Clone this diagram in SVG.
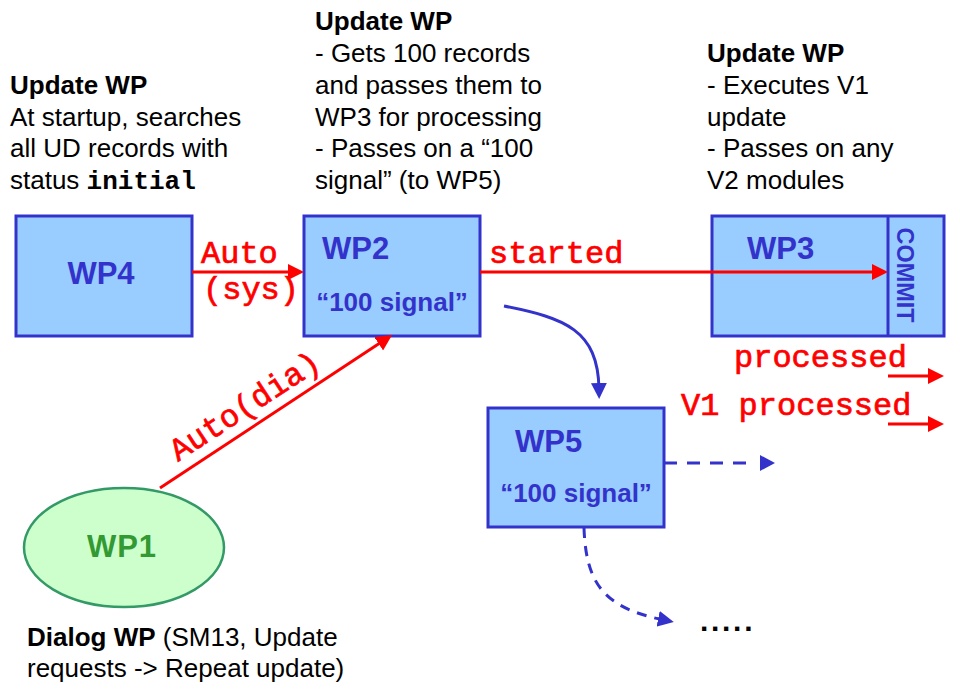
<svg xmlns="http://www.w3.org/2000/svg" width="960" height="690" viewBox="0 0 960 690">
<style>
.t{font-family:"Liberation Sans",Arial,sans-serif;font-size:26px;fill:#000}
.b{font-weight:bold}
.m{font-family:"Liberation Mono","Courier New",monospace;font-weight:bold}
.box{fill:#99ccff;stroke:#3333cc;stroke-width:3}
.lbl{font-family:"Liberation Sans",Arial,sans-serif;font-weight:bold;fill:#3333cc}
.red{font-family:"Liberation Mono","Courier New",monospace;font-size:32px;fill:#ff0000;stroke:#ff0000;stroke-width:0.7}
.rl{stroke:#ff0000;stroke-width:3;fill:none}
.bl{stroke:#3333cc;stroke-width:3;fill:none}
</style>
<defs>
<marker id="ar" markerUnits="userSpaceOnUse" markerWidth="16" markerHeight="16" refX="6" refY="8" orient="auto"><path d="M0,0 L16,8 L0,16 z" fill="#ff0000"/></marker>
<marker id="ab" markerUnits="userSpaceOnUse" markerWidth="16" markerHeight="16" refX="6" refY="8" orient="auto"><path d="M0,0 L16,8 L0,16 z" fill="#3333cc"/></marker>
<marker id="abd" markerUnits="userSpaceOnUse" markerWidth="24" markerHeight="16" refX="0" refY="8" orient="auto"><path d="M7,0 L22,8 L7,16 z" fill="#3333cc"/></marker>
</defs>
<rect width="960" height="690" fill="#ffffff"/>

<g id="text-left">
<text class="t" x="10" y="94"><tspan class="b">Update WP</tspan><tspan x="10" y="126">At startup, searches</tspan><tspan x="10" y="157">all UD records with</tspan><tspan x="10" y="189">status <tspan class="m">initial</tspan></tspan></text>
</g>
<g id="text-mid">
<text class="t" x="315" y="30"><tspan class="b">Update WP</tspan><tspan x="315" y="62">- Gets 100 records</tspan><tspan x="315" y="94">and passes them to</tspan><tspan x="315" y="126">WP3 for processing</tspan><tspan x="315" y="157">- Passes on a “100</tspan><tspan x="315" y="189">signal” (to WP5)</tspan></text>
</g>
<g id="text-right">
<text class="t" x="707" y="62"><tspan class="b">Update WP</tspan><tspan x="707" y="94">- Executes V1</tspan><tspan x="707" y="126">update</tspan><tspan x="707" y="157">- Passes on any</tspan><tspan x="707" y="189">V2 modules</tspan></text>
</g>

<g id="WP4">
<rect class="box" x="16" y="216" width="176" height="120"/>
<text class="lbl" x="101" y="284" font-size="31" text-anchor="middle">WP4</text>
</g>
<g id="WP2">
<rect class="box" x="304" y="216" width="176" height="120"/>
<text class="lbl" x="322" y="259" font-size="31">WP2</text>
<text class="lbl" x="392" y="311" font-size="26" text-anchor="middle">“100 signal”</text>
</g>
<g id="WP3">
<rect class="box" x="712" y="216" width="232" height="120"/>
<line x1="888" y1="216" x2="888" y2="336" stroke="#3333cc" stroke-width="3"/>
<text class="lbl" x="747" y="259" font-size="31">WP3</text>
<text class="lbl" transform="translate(897,275) rotate(90)" text-anchor="middle" font-size="24" textLength="95" lengthAdjust="spacingAndGlyphs">COMMIT</text>
</g>
<g id="WP5">
<rect class="box" x="488" y="408" width="176" height="119"/>
<text class="lbl" x="515" y="452" font-size="31">WP5</text>
<text class="lbl" x="576" y="502" font-size="26" text-anchor="middle">“100 signal”</text>
</g>
<g id="WP1">
<ellipse cx="124" cy="547.5" rx="100" ry="59.5" fill="#ccffcc" stroke="#339966" stroke-width="2.5"/>
<text x="122" y="557" font-family="Liberation Sans,Arial,sans-serif" font-weight="bold" font-size="31" fill="#339933" text-anchor="middle" letter-spacing="1">WP1</text>
</g>
<g id="text-dialog">
<text class="t" x="27" y="646"><tspan class="b">Dialog WP</tspan> (SM13, Update<tspan x="27" y="677">requests -&gt; Repeat update)</tspan></text>
</g>

<g id="connectors">
<line class="rl" x1="192" y1="272" x2="294" y2="272" marker-end="url(#ar)"/>
<line class="rl" x1="480" y1="272" x2="878" y2="272" marker-end="url(#ar)"/>
<line class="rl" x1="888" y1="376" x2="934" y2="376" marker-end="url(#ar)"/>
<line class="rl" x1="888" y1="424" x2="934" y2="424" marker-end="url(#ar)"/>
<line class="rl" x1="160" y1="488" x2="383.7" y2="340.5" stroke-width="2.5" marker-end="url(#ar)"/>
<path class="bl" d="M504,306 C565,318 598,330 599,389" marker-end="url(#ab)"/>
<path class="bl" d="M664,463 L753,463" stroke-width="3.5" stroke-dasharray="13,10" marker-end="url(#abd)"/>
<path class="bl" d="M584,528 C586,585 605,608 664,620" stroke-dasharray="10,8" marker-end="url(#ab)"/>
<text class="red" x="201" y="263">Auto</text>
<text class="red" x="203" y="299">(sys)</text>
<text class="red" x="489" y="263">started</text>
<text class="red" x="734" y="367">processed</text>
<text class="red" x="681" y="415">V1 processed</text>
<text class="red" transform="translate(178,462) rotate(-33.2)">Auto(dia)</text>
<text x="700" y="631" font-family="Liberation Sans,Arial,sans-serif" font-weight="bold" font-size="30" letter-spacing="2.7" fill="#000">.....</text>
</g>
</svg>
